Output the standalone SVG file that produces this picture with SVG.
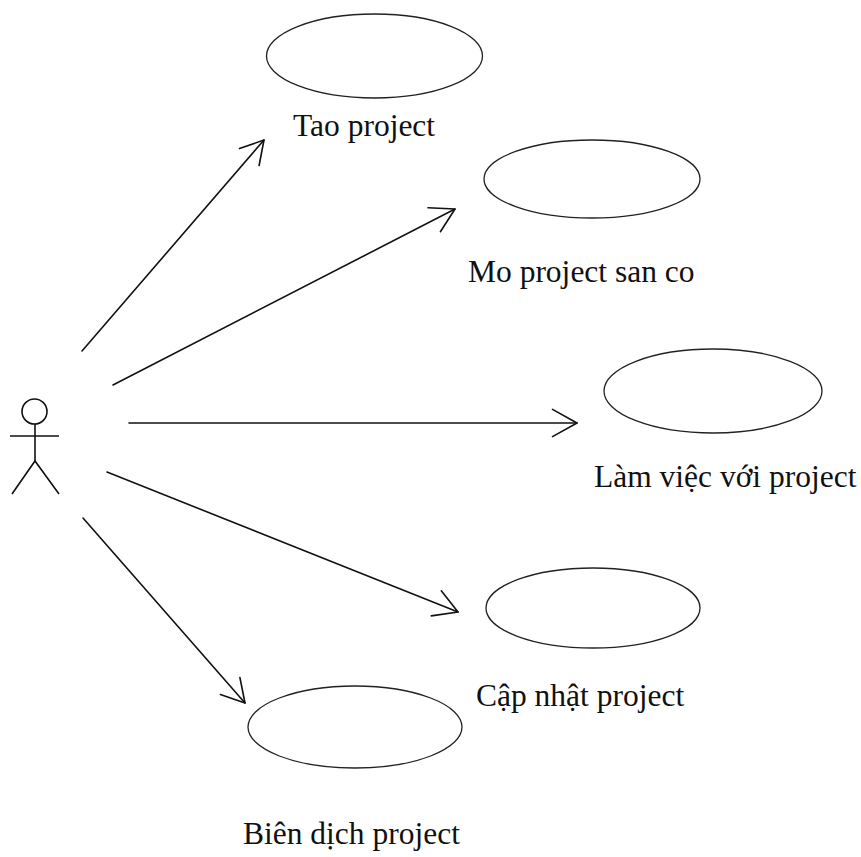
<svg xmlns="http://www.w3.org/2000/svg" width="861" height="857" viewBox="0 0 861 857">
  <style>
    .uc { fill: none; stroke: #222; stroke-width: 1.3; }
    .lbl { font-family: "Liberation Serif", "Times New Roman", serif; font-size: 31.5px; fill: #111; }
    .actor { fill: none; stroke: #111; stroke-width: 1.6; }
    .link { fill: none; stroke: #111; stroke-width: 1.6; stroke-linecap: round; stroke-linejoin: round; }
  </style>
  <rect width="861" height="857" fill="#fff"/>

  <!-- actor -->
  <g id="actor" class="actor">
    <circle cx="34.5" cy="411.5" r="12.5"/>
    <line x1="10" y1="436" x2="59" y2="436"/>
    <line x1="35" y1="424" x2="35" y2="461"/>
    <polyline points="12,494 35,461 59,494"/>
  </g>

  <!-- use cases -->
  <g id="uc-tao">
    <ellipse class="uc" cx="374.5" cy="56" rx="108" ry="42"/>
    <text class="lbl" x="293" y="136">Tao project</text>
  </g>
  <g id="uc-mo">
    <ellipse class="uc" cx="592" cy="179" rx="108" ry="39"/>
    <text class="lbl" x="468" y="282">Mo project san co</text>
  </g>
  <g id="uc-lam">
    <ellipse class="uc" cx="713" cy="391" rx="109" ry="42"/>
    <text class="lbl" x="594" y="487">Làm việc với project</text>
  </g>
  <g id="uc-capnhat">
    <ellipse class="uc" cx="593" cy="608" rx="107" ry="40"/>
    <text class="lbl" x="476" y="706">Cập nhật project</text>
  </g>
  <g id="uc-biendich">
    <ellipse class="uc" cx="355" cy="727" rx="107" ry="41"/>
    <text class="lbl" x="243" y="844">Biên dịch project</text>
  </g>

  <!-- associations with open arrowheads -->
  <g id="connectors" class="link">
    <line x1="82" y1="351" x2="264" y2="140"/>
    <polyline points="239.5,148.6 264,140 259.1,165.5"/>

    <line x1="113" y1="385" x2="455" y2="209"/>
    <polyline points="428,207.7 455,209 440.4,231.7"/>

    <line x1="129" y1="423" x2="577" y2="423"/>
    <polyline points="552.5,409.4 577,423 552.5,436.6"/>

    <line x1="107" y1="472" x2="458" y2="612"/>
    <polyline points="441.3,590.8 458,612 431.3,615.9"/>

    <line x1="83" y1="518" x2="245" y2="703"/>
    <polyline points="239.9,677.5 245,703 220.4,694.6"/>
  </g>
</svg>
